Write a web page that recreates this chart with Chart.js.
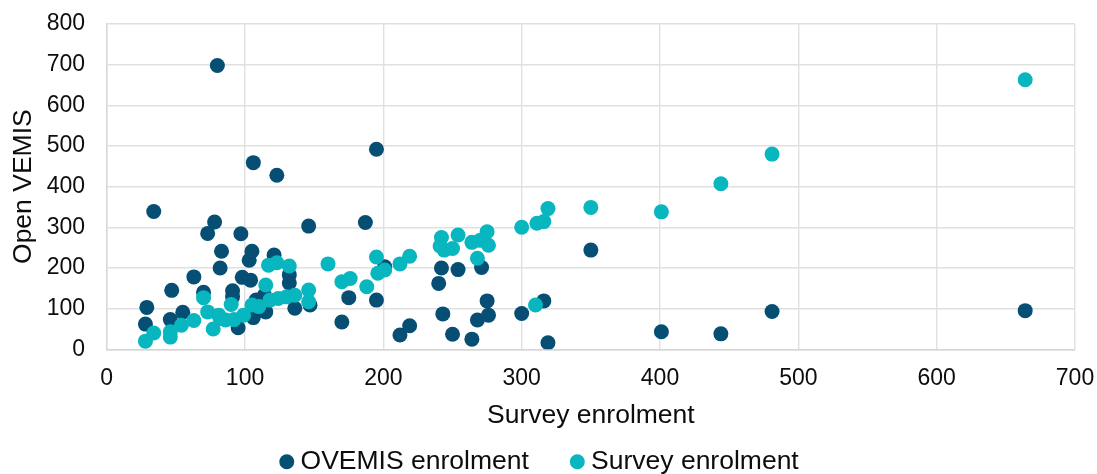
<!DOCTYPE html>
<html>
<head>
<meta charset="utf-8">
<title>Open VEMIS vs survey enrolment</title>
<script src="https://cdn.jsdelivr.net/npm/chart.js@4.4.1/dist/chart.umd.min.js"></script>
<style>
  html, body { margin: 0; padding: 0; background: #ffffff; }
  #wrap { position: relative; width: 1097px; height: 474px; }
</style>
</head>
<body>
<div id="wrap"><canvas id="enrolChart"></canvas></div>
<script>
// school enrolment: survey count (x) against the Open VEMIS record (y)
var ovemisX = [28, 29, 34, 46, 47, 55, 63, 70, 73, 78, 80, 82, 83, 91, 91, 95, 97, 98, 103, 104,
               105, 106, 106, 108, 114, 115, 121, 123, 132, 132, 136, 146, 147, 170, 175, 187, 195, 195, 201, 212,
               219, 240, 242, 243, 250, 254, 264, 268, 271, 275, 276, 300, 316, 319, 350, 401, 444, 481, 664];
var ovemisY = [62, 103, 339, 73, 145, 91, 178, 140, 285, 313, 698, 200, 241, 144, 129, 53, 284, 177, 219, 170,
               241, 78, 459, 121, 133, 92, 232, 428, 163, 183, 101, 303, 109, 67, 127, 312, 492, 121, 203, 35,
               58, 162, 200, 87, 37, 196, 25, 72, 201, 119, 84, 88, 119, 16, 244, 43, 38, 93, 95];

// second series
var surveyX = [28, 34, 46, 46, 54, 63, 70, 73, 77, 81, 82, 86, 90, 92, 99, 105, 110, 115, 117, 118,
               123, 124, 130, 132, 136, 146, 146, 160, 170, 176, 188, 195, 196, 201, 212, 219, 241, 242, 244, 250,
               254, 264, 268, 270, 275, 276, 300, 310, 311, 316, 319, 350, 401, 444, 481, 664];
var surveyY = [20, 40, 30, 43, 59, 71, 127, 92, 50, 84, 76, 72, 110, 73, 84, 109, 105, 158, 207, 121,
               213, 125, 129, 205, 133, 146, 117, 210, 166, 174, 154, 227, 187, 195, 210, 229, 254, 275, 244, 248,
               281, 263, 224, 268, 289, 256, 300, 109, 310, 314, 346, 349, 338, 407, 480, 663];

var seriesNames = ['OVEMIS enrolment', 'Survey enrolment'];
var seriesColours = ['#064e73', '#08b6bf'];
var xTitle = 'Survey enrolment';
var yTitle = 'Open VEMIS';

function toPoints(xs, ys) {
    var pts = [];
    for (var i = 0; i < xs.length; i++) {
        pts.push({x: xs[i], y: ys[i]});
    }
    return pts;
}

Chart.defaults.font.family = "'Liberation Sans', Arial, sans-serif";
Chart.defaults.color = '#0d0d0d';

// the legend sits under the axis title, so move it after layout
var legendPlacement = {
    id: 'legendPlacement',
    afterLayout: function(chart) {
        var lg = chart.legend;
        if (!lg) return;
        lg.top = 400.5;
        lg.bottom = chart.height;
        lg.left += 5;
        lg.right += 5;
    }
};

var gridColour = '#e0e0e0';

var ctx = document.getElementById('enrolChart').getContext('2d');
var enrolChart = new Chart(ctx, {
    type: 'scatter',
    data: {
        datasets: [{
            label: seriesNames[0],
            data: toPoints(ovemisX, ovemisY),
            backgroundColor: seriesColours[0],
            borderWidth: 0,
            pointRadius: 7.5,
            pointHoverRadius: 7.5,
            order: 2
        }, {
            label: seriesNames[1],
            data: toPoints(surveyX, surveyY),
            backgroundColor: seriesColours[1],
            borderWidth: 0,
            pointRadius: 7.5,
            pointHoverRadius: 7.5,
            order: 1
        }]
    },
    options: {
        responsive: true,
        maintainAspectRatio: false,
        animation: false,
        layout: {
            padding: {top: 24, right: 22, bottom: 0, left: 0}
        },
        scales: {
            x: {
                type: 'linear',
                min: 0,
                max: 700,
                ticks: {stepSize: 100, padding: 16, font: {size: 23}, maxRotation: 0},
                grid: {color: gridColour, lineWidth: 1.4, drawTicks: false},
                border: {color: '#d6d6d6', width: 1.4},
                title: {display: true, text: xTitle, font: {size: 26.5}, padding: {top: 0, bottom: 16.4}},
                afterFit: function(scale) {
                    scale.height = 98.7;
                    scale.paddingLeft = 0;
                    scale.paddingRight = 0;
                }
            },
            y: {
                min: 0,
                max: 800,
                ticks: {stepSize: 100, padding: 21.7, font: {size: 23}},
                grid: {color: gridColour, lineWidth: 1.4, drawTicks: false},
                border: {color: '#d6d6d6', width: 1.4},
                title: {display: true, text: yTitle, font: {size: 26.5}, padding: {top: 8.1, bottom: 0}},
                afterFit: function(scale) {
                    scale.width = 106.7;
                    scale.paddingTop = 0;
                    scale.paddingBottom = 0;
                }
            }
        },
        plugins: {
            legend: {
                position: 'bottom',
                maxHeight: 26,
                labels: {
                    usePointStyle: true,
                    pointStyle: 'circle',
                    boxWidth: 1,
                    boxHeight: 10.6,
                    padding: 48,
                    font: {size: 26.5},
                    color: '#0d0d0d',
                    sort: function(a, b) { return a.datasetIndex - b.datasetIndex; }
                }
            },
            tooltip: {enabled: false}
        }
    },
    plugins: [legendPlacement]
});
</script>
</body>
</html>
